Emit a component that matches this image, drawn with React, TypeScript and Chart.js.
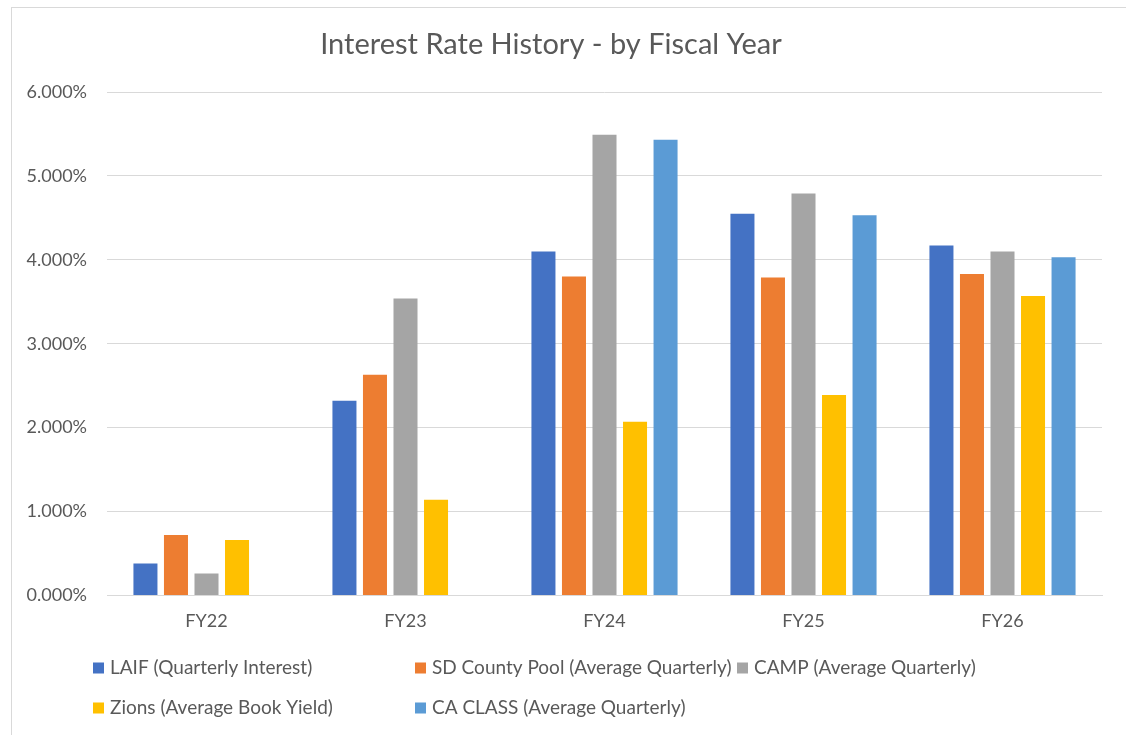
import React, { useEffect, useRef } from "react";
import { Chart, registerables } from "chart.js";

Chart.register(...registerables);

const categories = ["FY22", "FY23", "FY24", "FY25", "FY26"];
const seriesNames = [
  "LAIF (Quarterly Interest)",
  "SD County Pool (Average Quarterly)",
  "CAMP (Average Quarterly)",
  "Zions (Average Book Yield)",
  "CA CLASS (Average Quarterly)",
];
const laif = [0.38, 2.32, 4.1, 4.55, 4.17];
const sdCounty = [0.72, 2.63, 3.8, 3.79, 3.83];
const camp = [0.26, 3.54, 5.49, 4.79, 4.1];
const zions = [0.66, 1.14, 2.07, 2.39, 3.57];
const caClass = [null, null, 5.43, 4.53, 4.03];
const colors = ["#4472C4", "#ED7D31", "#A5A5A5", "#FFC000", "#5B9BD5"];

const FONT = "Lato, 'Open Sans', sans-serif";
const TEXT = "#595959";

const gridLegend = {
  id: "gridLegend",
  afterDraw(chart: any) {
    const ctx = chart.ctx;
    ctx.save();
    ctx.font = `19px ${FONT}`;
    ctx.textBaseline = "middle";
    ctx.textAlign = "left";
    chart.data.datasets.forEach((ds: any, i: number) => {
      const col = i % 3;
      const row = Math.floor(i / 3);
      const x = 93 + col * 322;
      const y = 668 + row * 40;
      ctx.fillStyle = ds.backgroundColor;
      ctx.fillRect(x, y - 5.5, 11, 11);
      ctx.fillStyle = TEXT;
      ctx.fillText(ds.label, x + 17, y);
    });
    ctx.restore();
  },
};

const frame = {
  id: "frame",
  beforeDraw(chart: any) {
    const ctx = chart.ctx;
    ctx.save();
    ctx.fillStyle = "#ffffff";
    ctx.fillRect(0, 0, chart.width, chart.height);
    ctx.strokeStyle = "#d9d9d9";
    ctx.lineWidth = 1;
    ctx.strokeRect(11.5, 7.5, chart.width + 20, chart.height + 20);
    ctx.restore();
  },
};

export default function App() {
  const ref = useRef<HTMLCanvasElement>(null);
  useEffect(() => {
    if (!ref.current) return;
    const values = [laif, sdCounty, camp, zions, caClass];
    const chart = new Chart(ref.current, {
      type: "bar",
      data: {
        labels: categories,
        datasets: seriesNames.map((name, i) => ({
          label: name,
          data: values[i],
          backgroundColor: colors[i],
          borderWidth: 0,
          categoryPercentage: 0.767,
          barPercentage: 0.787,
        })),
      },
      options: {
        animation: false,
        responsive: false,
        layout: { padding: { left: 0, right: 24, top: 0, bottom: 88 } },
        plugins: {
          legend: { display: false },
          tooltip: { enabled: false },
          title: {
            display: true,
            text: "Interest Rate History - by Fiscal Year",
            color: TEXT,
            font: { family: FONT, size: 29, weight: "normal" },
            padding: { top: 27.6, bottom: 29.6 },
          },
        },
        scales: {
          x: {
            grid: { display: false, drawTicks: false },
            border: { display: true, color: "#d9d9d9", width: 1 },
            ticks: { color: TEXT, font: { family: FONT, size: 18 }, padding: 15 },
          },
          y: {
            min: 0,
            max: 6,
            afterFit(scale: any) {
              scale.width = 107;
            },
            grid: { color: "#d9d9d9", drawTicks: false },
            border: { display: false },
            ticks: {
              stepSize: 1,
              padding: 20,
              color: TEXT,
              font: { family: FONT, size: 18 },
              callback: (v: any) => Number(v).toFixed(3) + "%",
            },
          },
        },
      },
      plugins: [frame, gridLegend],
    });
    return () => chart.destroy();
  }, []);
  return (
    <div style={{ position: "fixed", left: 0, top: 0, width: 1126, height: 735 }}>
      <canvas ref={ref} width={1126} height={735} />
    </div>
  );
}
